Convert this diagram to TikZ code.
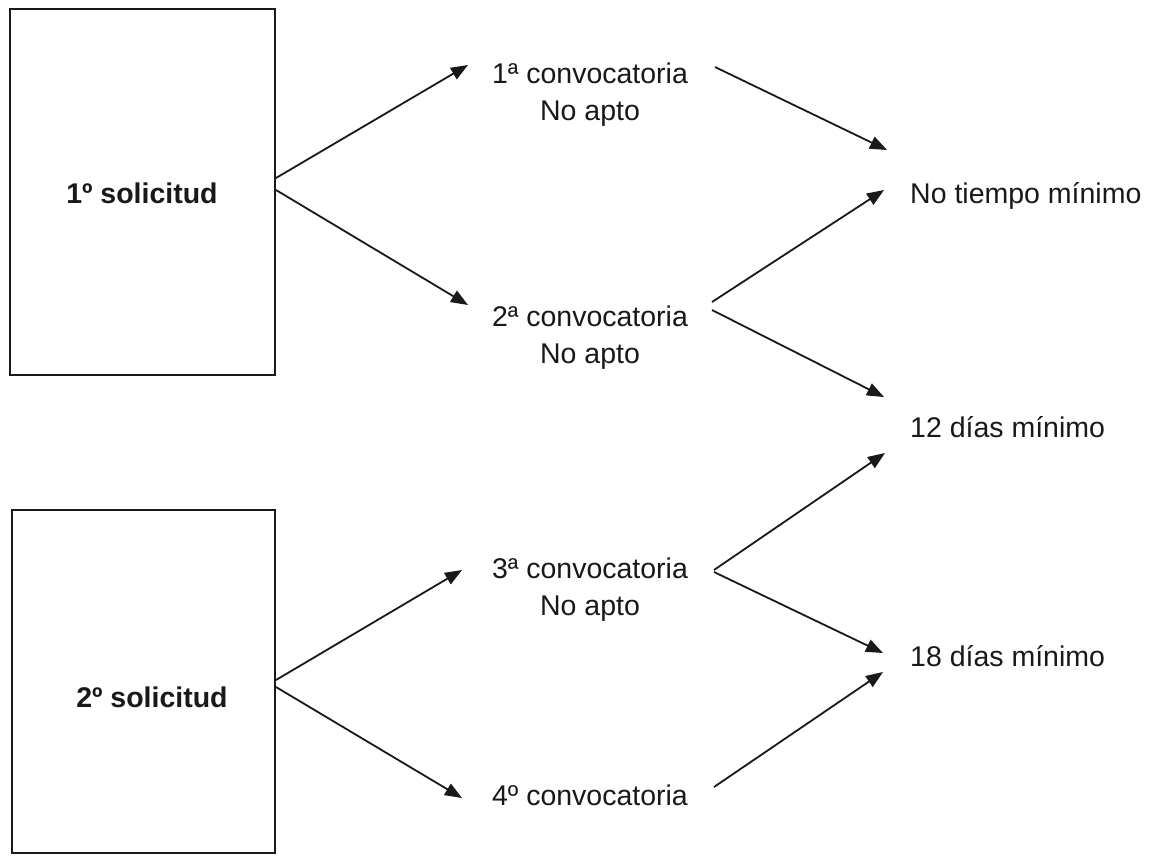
\documentclass[tikz,border=0pt]{standalone}
\usepackage{fontspec}
\setmainfont{Liberation Sans}
\usetikzlibrary{arrows.meta}
\begin{document}
\begin{tikzpicture}[x=1pt,y=-1pt,
  lbl/.style={inner sep=0pt,font=\fontsize{28.5}{34}\selectfont,text=black!90},
  boldlbl/.style={lbl,font=\fontsize{28.5}{34}\selectfont\bfseries},
  boxnode/.style={draw=black!90,line width=2pt,inner sep=0pt},
  arr/.style={draw=black!90,line width=1.8pt,-{Triangle[length=17pt,width=13pt]}}]
\fill[white] (0,0) rectangle (1151,855);
\useasboundingbox (0,0) rectangle (1151,855);
% boxes
\node[boxnode,minimum width=265pt,minimum height=366pt] (b1) at (142.5,192) {};
\node[boxnode,minimum width=263pt,minimum height=343pt] (b2) at (143.5,681.5) {};
\node[boldlbl,anchor=base] (s1) at (142,203) {1º solicitud};
\node[boldlbl,anchor=base] (s2) at (152,707) {2º solicitud};
% middle column
\node[lbl,anchor=base] (c1) at (590,83) {1ª convocatoria};
\node[lbl,anchor=base] (c1n) at (590,120) {No apto};
\node[lbl,anchor=base] (c2) at (590,326) {2ª convocatoria};
\node[lbl,anchor=base] (c2n) at (590,363) {No apto};
\node[lbl,anchor=base] (c3) at (590,578) {3ª convocatoria};
\node[lbl,anchor=base] (c3n) at (590,615) {No apto};
\node[lbl,anchor=base] (c4) at (590,805) {4º convocatoria};
% right column
\node[lbl,anchor=base west] (nt) at (910,203) {No tiempo mínimo};
\node[lbl,anchor=base west] (d12) at (910,437) {12 días mínimo};
\node[lbl,anchor=base west] (d18) at (910,666) {18 días mínimo};
% connectors
\draw[arr] ([shift={(0,-14)}]b1.east) -- ([shift={(-122,-18)}]c1.base);
\draw[arr] ([shift={(0,-2)}]b1.east) -- ([shift={(-122,-21)}]c2.base);
\draw[arr] ([shift={(125,-16)}]c1.base) -- ([shift={(-23,-53)}]nt.base west);
\draw[arr] ([shift={(122,-24)}]c2.base) -- ([shift={(-26,-13)}]nt.base west);
\draw[arr] ([shift={(122,-16)}]c2.base) -- ([shift={(-26,-40)}]d12.base west);
\draw[arr] ([shift={(0,-1.5)}]b2.east) -- ([shift={(-128,-8)}]c3.base);
\draw[arr] ([shift={(0,5.5)}]b2.east) -- ([shift={(-128,-7)}]c4.base);
\draw[arr] ([shift={(124,-8)}]c3.base) -- ([shift={(-25,16)}]d12.base west);
\draw[arr] ([shift={(124,-6)}]c3.base) -- ([shift={(-27,-13)}]d18.base west);
\draw[arr] ([shift={(124,-18)}]c4.base) -- ([shift={(-27,6)}]d18.base west);
\end{tikzpicture}
\end{document}
